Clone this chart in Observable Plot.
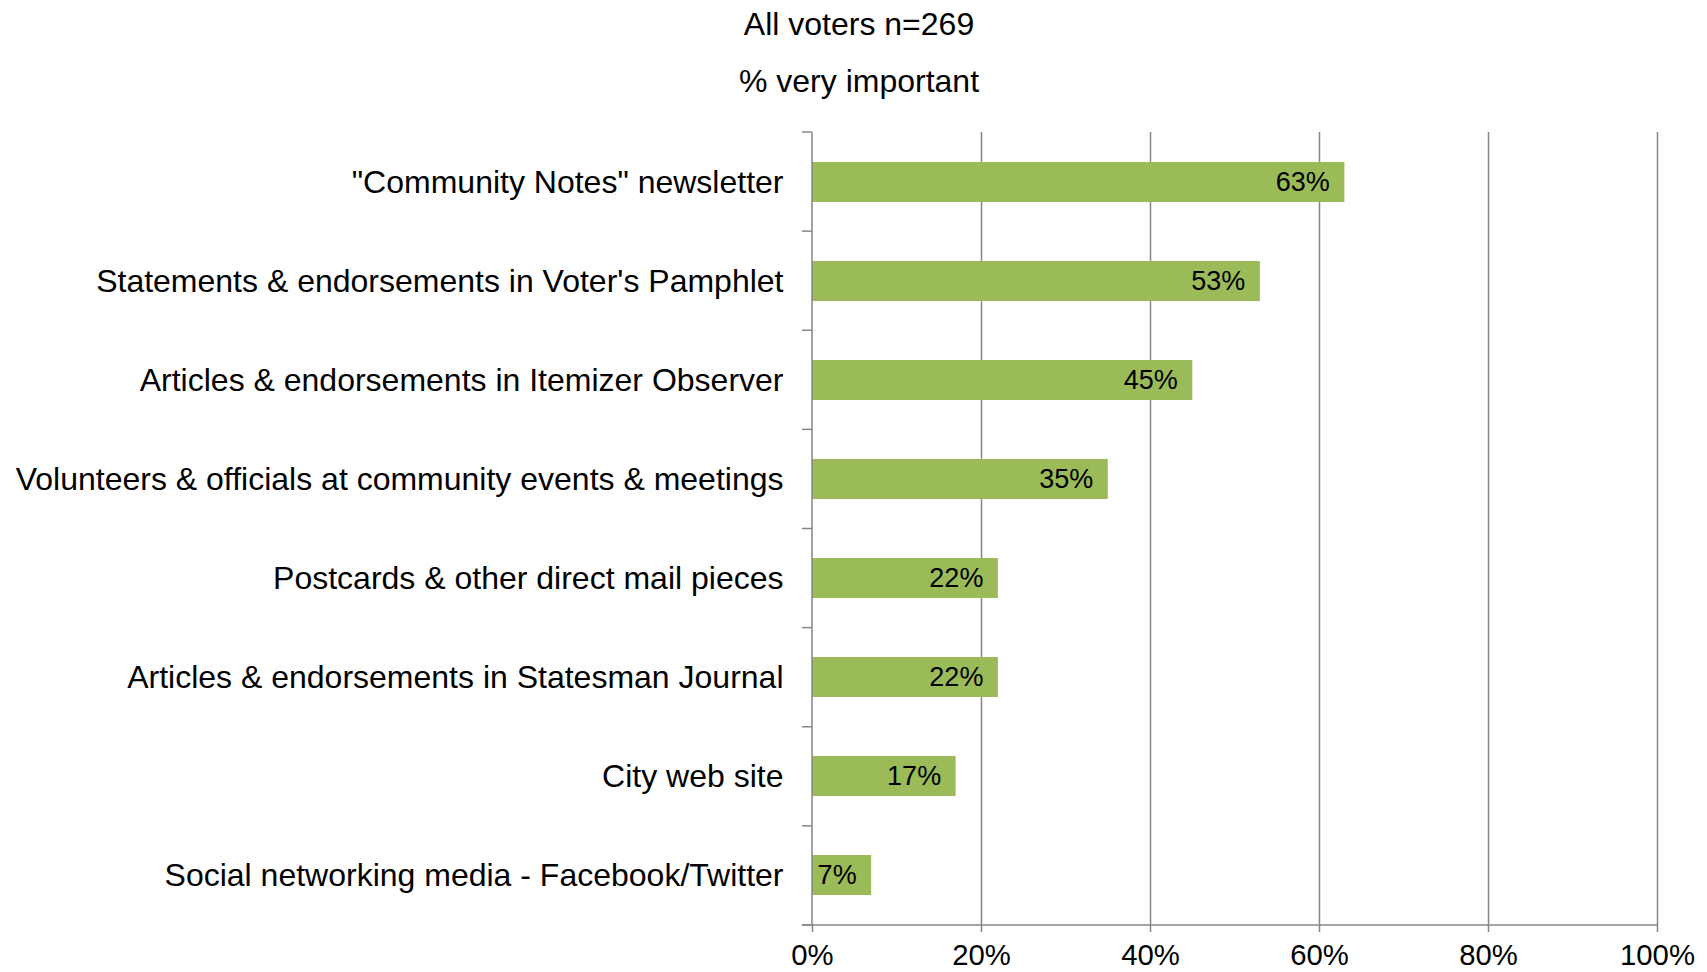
<!DOCTYPE html>
<html>
<head>
<meta charset="utf-8">
<script src="https://cdn.jsdelivr.net/npm/d3@7"></script>
<script src="https://cdn.jsdelivr.net/npm/@observablehq/plot@0.6"></script>
<style>
  html, body { margin: 0; padding: 0; background: #fff; }
  #wrap { position: relative; width: 1707px; height: 972px; font-family: "Liberation Sans", Arial, sans-serif; }
  .ttl { position: absolute; left: 0; width: 1718px; text-align: center; font-size: 32px; line-height: 32px; color: #000; }
  #chart { position: absolute; left: 0; top: 0; }
</style>
</head>
<body>
<div id="wrap">
  <div id="chart"></div>
  <div class="ttl" style="top: 8px;">All voters n=269</div>
  <div class="ttl" style="top: 65px;">% very important</div>
</div>
<script>
const categories = [
  "\"Community Notes\" newsletter",
  "Statements & endorsements in Voter's Pamphlet",
  "Articles & endorsements in Itemizer Observer",
  "Volunteers & officials at community events & meetings",
  "Postcards & other direct mail pieces",
  "Articles & endorsements in Statesman Journal",
  "City web site",
  "Social networking media - Facebook/Twitter"
];
const values = [0.63, 0.53, 0.45, 0.35, 0.22, 0.22, 0.17, 0.07];
const xTicks = [0, 0.2, 0.4, 0.6, 0.8, 1.0];

const data = categories.map((c, i) => ({category: c, value: values[i]}));
const pct = d3.format(".0%");
const AXIS = "#868686";

function axisLines(index, scales, vals, dims) {
  const {x} = scales;
  const top = dims.marginTop, bottom = dims.height - dims.marginBottom;
  const n = categories.length;
  const x0 = x(0), x1 = x(1);
  const g = d3.create("svg:g").attr("stroke", AXIS).attr("stroke-width", 1.5).attr("fill", "none");
  g.append("line").attr("x1", x0).attr("x2", x0).attr("y1", top).attr("y2", bottom);
  g.append("line").attr("x1", x0 - 10).attr("x2", x1).attr("y1", bottom).attr("y2", bottom);
  d3.range(n + 1).forEach(i => {
    const yy = top + i * (bottom - top) / n;
    g.append("line").attr("x1", x0 - 10).attr("x2", x0).attr("y1", yy).attr("y2", yy);
  });
  return g.node();
}

const chart = Plot.plot({
  width: 1707,
  height: 972,
  marginLeft: 812,
  marginRight: 50,
  marginTop: 132,
  marginBottom: 47,
  style: {fontFamily: "\"Liberation Sans\", Arial, sans-serif", color: "#000", background: "#fff"},
  x: {domain: [0, 1]},
  y: {domain: categories, paddingInner: 0.6, paddingOuter: 0.3},
  marks: [
    Plot.gridX(xTicks.slice(1), {stroke: AXIS, strokeOpacity: 1, strokeWidth: 1.5}),
    Plot.barX(data, {x: "value", y: "category", fill: "#9BBB59"}),
    Plot.text(data, {x: "value", y: "category", text: d => pct(d.value), textAnchor: "end", dx: -15, fontSize: 27, fill: "#000"}),
    axisLines,
    Plot.axisX({ticks: xTicks, tickFormat: pct, tickSize: 7, tickPadding: 12, fontSize: 29.3, stroke: AXIS, strokeWidth: 1.5, label: null}),
    Plot.axisY({tickSize: 0, tickPadding: 29, fontSize: 32, label: null})
  ]
});
document.getElementById("chart").appendChild(chart);
</script>
</body>
</html>
